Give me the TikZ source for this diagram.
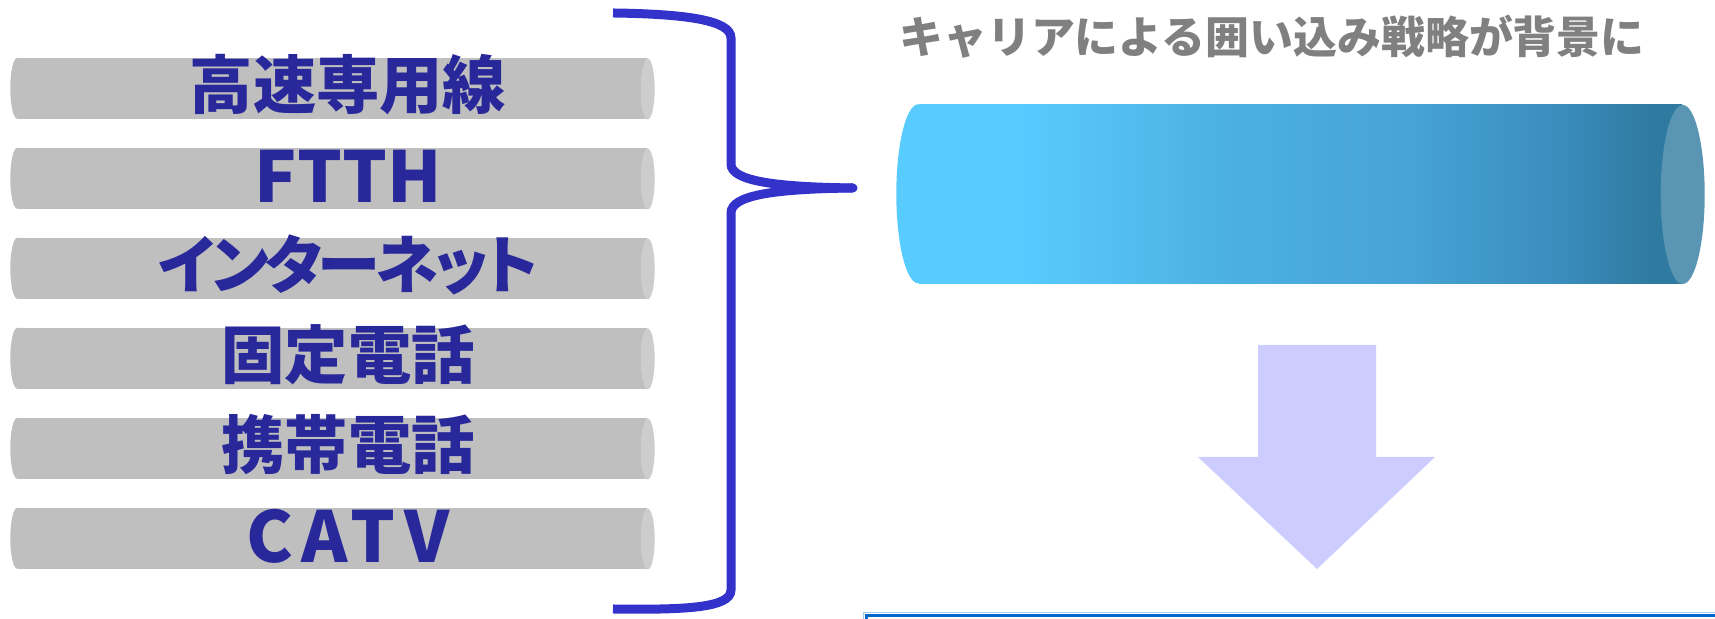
\documentclass[tikz,border=0pt]{standalone}
\usepackage{fontspec}
\newfontfamily\jpfont{Noto Sans CJK JP}
\newfontfamily\jpkana{Noto Sans CJK JP}[RawFeature=+palt, LetterSpace=-6]
\newfontfamily\jpwide{Noto Sans CJK JP}[LetterSpace=12]
\definecolor{labelblue}{RGB}{40,40,155}
\definecolor{pipegray}{RGB}{191,191,191}
\definecolor{pipeend}{RGB}{205,205,205}
\definecolor{bracecol}{RGB}{51,51,204}
\definecolor{titlegray}{RGB}{128,128,128}
\definecolor{arrowcol}{RGB}{204,204,255}
\definecolor{boxblue}{RGB}{0,102,204}
\definecolor{boxlight}{RGB}{160,200,240}
\definecolor{cyanA}{RGB}{89,204,255}
\definecolor{cyanB}{RGB}{76,176,227}
\definecolor{cyanC}{RGB}{71,163,214}
\definecolor{cyanD}{RGB}{58,141,189}
\definecolor{cyanE}{RGB}{47,122,160}
\definecolor{capblue}{RGB}{90,150,180}
\pgfdeclarehorizontalshading{mainpipe}{100bp}{color(0bp)=(cyanA); color(31bp)=(cyanA); color(45bp)=(cyanB); color(57bp)=(cyanC); color(67bp)=(cyanD); color(73bp)=(cyanE); color(100bp)=(cyanE)}
\tikzset{
  pipe/.style={rectangle, fill=pipegray, minimum width=6.29cm, minimum height=0.61cm, inner sep=0pt},
  bigpipe/.style={rectangle, shade, shading=mainpipe, minimum width=7.63cm, minimum height=1.79cm, inner sep=0pt},
  lbl/.style={text=labelblue, inner sep=0pt, font=\jpfont\bfseries\fontsize{18pt}{20pt}\selectfont},
  lblkana/.style={lbl, font=\jpkana\bfseries\fontsize{18pt}{20pt}\selectfont},
  lbllatin/.style={lbl, font=\jpfont\bfseries\fontsize{20pt}{22pt}\selectfont},
  lblwide/.style={lbl, font=\jpwide\bfseries\fontsize{20pt}{22pt}\selectfont},
  headline/.style={text=titlegray, inner sep=0pt, font=\jpfont\bfseries\fontsize{12.5pt}{14pt}\selectfont},
  bracestroke/.style={draw=bracecol, line width=0.09cm}
}
\begin{document}
\begin{tikzpicture}
        \useasboundingbox (0,0) rectangle (17.15,6.19);
        \clip (0,0) rectangle (17.15,6.19);
        \node[pipe] (p1) at (3.325,5.30) {};
        \node[pipe] (p2) at (3.325,4.40) {};
        \node[pipe] (p3) at (3.325,3.50) {};
        \node[pipe] (p4) at (3.325,2.60) {};
        \node[pipe] (p5) at (3.325,1.70) {};
        \node[pipe] (p6) at (3.325,0.80) {};
        \fill[pipegray] ([xshift=0.05cm]p1.north west) -- (p1.north west) arc[start angle=90, end angle=270, x radius=0.07, y radius=0.305] -- ++(0.05,0) -- cycle;
        \fill[pipegray] ([xshift=0.05cm]p2.north west) -- (p2.north west) arc[start angle=90, end angle=270, x radius=0.07, y radius=0.305] -- ++(0.05,0) -- cycle;
        \fill[pipegray] ([xshift=0.05cm]p3.north west) -- (p3.north west) arc[start angle=90, end angle=270, x radius=0.07, y radius=0.305] -- ++(0.05,0) -- cycle;
        \fill[pipegray] ([xshift=0.05cm]p4.north west) -- (p4.north west) arc[start angle=90, end angle=270, x radius=0.07, y radius=0.305] -- ++(0.05,0) -- cycle;
        \fill[pipegray] ([xshift=0.05cm]p5.north west) -- (p5.north west) arc[start angle=90, end angle=270, x radius=0.07, y radius=0.305] -- ++(0.05,0) -- cycle;
        \fill[pipegray] ([xshift=0.05cm]p6.north west) -- (p6.north west) arc[start angle=90, end angle=270, x radius=0.07, y radius=0.305] -- ++(0.05,0) -- cycle;
        \fill[pipeend] (p1.east) ellipse[x radius=0.07, y radius=0.305];
        \fill[pipeend] (p2.east) ellipse[x radius=0.07, y radius=0.305];
        \fill[pipeend] (p3.east) ellipse[x radius=0.07, y radius=0.305];
        \fill[pipeend] (p4.east) ellipse[x radius=0.07, y radius=0.305];
        \fill[pipeend] (p5.east) ellipse[x radius=0.07, y radius=0.305];
        \fill[pipeend] (p6.east) ellipse[x radius=0.07, y radius=0.305];
        \node[lbl] (t1) at (3.48,5.34) {高速専用線};
        \node[lbllatin] (t2) at (3.48,4.43) {FTTH};
        \node[lblkana] (t3) at (3.48,3.54) {インターネット};
        \node[lbl] (t4) at (3.48,2.64) {固定電話};
        \node[lbl] (t5) at (3.48,1.74) {携帯電話};
        \node[lblwide] (t6) at (3.48,0.83) {CATV};
        \coordinate (bracetop) at (6.13,6.06);
        \coordinate (bracetip) at (8.53,4.31);
        \coordinate (bracebot) at (6.13,0.10);
        \draw[bracestroke] (bracetop) .. controls (6.85,6.05) and (7.31,5.99) .. (7.31,5.81) -- (7.31,4.55) .. controls (7.31,4.38) and (7.75,4.32) .. (bracetip);
        \draw[bracestroke] (bracetip) .. controls (7.75,4.30) and (7.31,4.24) .. (7.31,4.06) -- (7.31,0.29) .. controls (7.31,0.11) and (6.85,0.09) .. (bracebot);
        \fill[bracecol] (bracetip) circle (0.045);
        \node[headline] (head) at (12.72,5.82) {キャリアによる囲い込み戦略が背景に};
        \node[bigpipe] (carrier) at (13.005,4.245) {};
        \fill[cyanA] ([xshift=0.1cm]carrier.north west) -- (carrier.north west) arc[start angle=90, end angle=270, x radius=0.22, y radius=0.895] -- ++(0.1,0) -- cycle;
        \fill[capblue] (carrier.east) ellipse[x radius=0.22, y radius=0.895];
        \fill[arrowcol] (12.58,2.74) -- (13.76,2.74) -- (13.76,1.62) -- (14.35,1.62) -- (13.17,0.50) -- (11.98,1.62) -- (12.58,1.62) -- cycle;
        \draw[boxlight, line width=0.01cm] (8.63,-0.5) rectangle (17.5,0.06);
        \draw[boxblue, line width=0.03cm] (8.66,-0.5) rectangle (17.5,0.035);
    \end{tikzpicture}
\end{document}
